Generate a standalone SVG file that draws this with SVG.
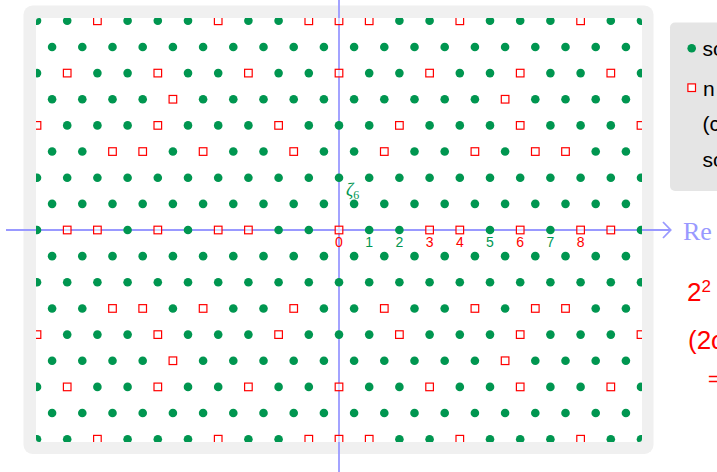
<svg xmlns="http://www.w3.org/2000/svg" xmlns:xlink="http://www.w3.org/1999/xlink" width="717" height="472" viewBox="0 0 717 472">
<style>
.g{fill:#009650}
.r{fill:#fff;fill-opacity:0.6;stroke:#ff0000;stroke-width:1.2}
.ax{stroke:#9999ff;stroke-width:1.8;fill:none}
.lab{font-family:"Liberation Sans",Arial,sans-serif;font-size:14px;text-anchor:middle}
.lg{font-family:"Liberation Sans",Arial,sans-serif;font-size:21px;fill:#000}
.rt{font-family:"Liberation Sans",Arial,sans-serif;fill:#ff0000}
</style>
<defs>
<circle id="d" class="g" r="4.3"/>
<rect id="s" class="r" x="-3.8" y="-3.8" width="7.6" height="7.6"/>
<clipPath id="clip"><rect x="36" y="18" width="606" height="424" rx="3"/></clipPath>
<g id="evenAll"><use href="#d" x="37"/><use href="#d" x="67.2"/><use href="#d" x="97.4"/><use href="#d" x="127.6"/><use href="#d" x="157.8"/><use href="#d" x="188"/><use href="#d" x="218.2"/><use href="#d" x="248.4"/><use href="#d" x="278.6"/><use href="#d" x="308.8"/><use href="#d" x="339"/><use href="#d" x="369.2"/><use href="#d" x="399.4"/><use href="#d" x="429.6"/><use href="#d" x="459.8"/><use href="#d" x="490"/><use href="#d" x="520.2"/><use href="#d" x="550.4"/><use href="#d" x="580.6"/><use href="#d" x="610.8"/><use href="#d" x="641"/></g>
<g id="oddAll"><use href="#d" x="52.1"/><use href="#d" x="82.3"/><use href="#d" x="112.5"/><use href="#d" x="142.7"/><use href="#d" x="172.9"/><use href="#d" x="203.1"/><use href="#d" x="233.3"/><use href="#d" x="263.5"/><use href="#d" x="293.7"/><use href="#d" x="323.9"/><use href="#d" x="354.1"/><use href="#d" x="384.3"/><use href="#d" x="414.5"/><use href="#d" x="444.7"/><use href="#d" x="474.9"/><use href="#d" x="505.1"/><use href="#d" x="535.3"/><use href="#d" x="565.5"/><use href="#d" x="595.7"/><use href="#d" x="625.9"/></g>
<g id="row8"><use href="#d" x="37"/><use href="#d" x="67.2"/><use href="#s" x="97.4"/><use href="#d" x="127.6"/><use href="#d" x="157.8"/><use href="#d" x="188"/><use href="#s" x="218.2"/><use href="#d" x="248.4"/><use href="#d" x="278.6"/><use href="#s" x="308.8"/><use href="#s" x="339"/><use href="#s" x="369.2"/><use href="#d" x="399.4"/><use href="#d" x="429.6"/><use href="#s" x="459.8"/><use href="#d" x="490"/><use href="#d" x="520.2"/><use href="#d" x="550.4"/><use href="#s" x="580.6"/><use href="#d" x="610.8"/><use href="#d" x="641"/></g>
<g id="row6"><use href="#d" x="37"/><use href="#s" x="67.2"/><use href="#d" x="97.4"/><use href="#d" x="127.6"/><use href="#s" x="157.8"/><use href="#d" x="188"/><use href="#d" x="218.2"/><use href="#s" x="248.4"/><use href="#d" x="278.6"/><use href="#d" x="308.8"/><use href="#s" x="339"/><use href="#d" x="369.2"/><use href="#d" x="399.4"/><use href="#s" x="429.6"/><use href="#d" x="459.8"/><use href="#d" x="490"/><use href="#s" x="520.2"/><use href="#d" x="550.4"/><use href="#d" x="580.6"/><use href="#s" x="610.8"/><use href="#d" x="641"/></g>
<g id="row5"><use href="#d" x="52.1"/><use href="#d" x="82.3"/><use href="#d" x="112.5"/><use href="#d" x="142.7"/><use href="#s" x="172.9"/><use href="#d" x="203.1"/><use href="#d" x="233.3"/><use href="#d" x="263.5"/><use href="#d" x="293.7"/><use href="#d" x="323.9"/><use href="#d" x="354.1"/><use href="#d" x="384.3"/><use href="#d" x="414.5"/><use href="#d" x="444.7"/><use href="#d" x="474.9"/><use href="#s" x="505.1"/><use href="#d" x="535.3"/><use href="#d" x="565.5"/><use href="#d" x="595.7"/><use href="#d" x="625.9"/></g>
<g id="row4"><use href="#s" x="37"/><use href="#d" x="67.2"/><use href="#d" x="97.4"/><use href="#d" x="127.6"/><use href="#s" x="157.8"/><use href="#d" x="188"/><use href="#d" x="218.2"/><use href="#d" x="248.4"/><use href="#s" x="278.6"/><use href="#d" x="308.8"/><use href="#d" x="339"/><use href="#d" x="369.2"/><use href="#s" x="399.4"/><use href="#d" x="429.6"/><use href="#d" x="459.8"/><use href="#d" x="490"/><use href="#s" x="520.2"/><use href="#d" x="550.4"/><use href="#d" x="580.6"/><use href="#d" x="610.8"/><use href="#s" x="641"/></g>
<g id="row3"><use href="#d" x="52.1"/><use href="#d" x="82.3"/><use href="#s" x="112.5"/><use href="#s" x="142.7"/><use href="#d" x="172.9"/><use href="#s" x="203.1"/><use href="#d" x="233.3"/><use href="#d" x="263.5"/><use href="#s" x="293.7"/><use href="#d" x="323.9"/><use href="#d" x="354.1"/><use href="#s" x="384.3"/><use href="#d" x="414.5"/><use href="#d" x="444.7"/><use href="#s" x="474.9"/><use href="#d" x="505.1"/><use href="#s" x="535.3"/><use href="#s" x="565.5"/><use href="#d" x="595.7"/><use href="#d" x="625.9"/></g>
<g id="row0"><use href="#d" x="37"/><use href="#s" x="67.2"/><use href="#s" x="97.4"/><use href="#d" x="127.6"/><use href="#s" x="157.8"/><use href="#d" x="188"/><use href="#s" x="218.2"/><use href="#s" x="248.4"/><use href="#d" x="278.6"/><use href="#d" x="308.8"/><use href="#s" x="339"/><use href="#d" x="369.2"/><use href="#d" x="399.4"/><use href="#s" x="429.6"/><use href="#s" x="459.8"/><use href="#d" x="490"/><use href="#s" x="520.2"/><use href="#d" x="550.4"/><use href="#s" x="580.6"/><use href="#s" x="610.8"/><use href="#d" x="641"/></g>
</defs>

<g id="frame">
<rect x="23.5" y="5.5" width="630" height="448.5" rx="9" fill="#f0f0f0"/>
<rect x="36" y="18" width="606" height="424" rx="3" fill="#fff"/>
</g>

<g id="legend">
<rect x="670" y="22.5" width="60" height="168.5" rx="5" fill="#e5e5e5"/>
<circle cx="691.7" cy="48.3" r="4.3" fill="#009650"/>
<text class="lg" x="702.5" y="55.5">so</text>
<rect x="687.9" y="83.9" width="7.6" height="7.6" fill="#fff" stroke="#ff0000" stroke-width="1.2"/>
<text class="lg" x="703" y="95.5">n</text>
<text class="lg" x="702.5" y="131">(c</text>
<text class="lg" x="702.5" y="166.5">so</text>
</g>

<g id="axes">
<line class="ax" x1="6" y1="230" x2="670" y2="230"/>
<polyline class="ax" points="663,222 670.7,230 663,238"/>
<line class="ax" x1="339" y1="0" x2="339" y2="472"/>
<text x="683" y="240" font-family="Liberation Serif,serif" font-size="26" fill="#9999ff">Re</text>
</g>

<g id="points" clip-path="url(#clip)">
<use href="#row8" y="20.8"/>
<use href="#oddAll" y="46.95"/>
<use href="#row6" y="73.1"/>
<use href="#row5" y="99.25"/>
<use href="#row4" y="125.4"/>
<use href="#row3" y="151.55"/>
<use href="#evenAll" y="177.7"/>
<use href="#oddAll" y="203.85"/>
<use href="#row0" y="230"/>
<use href="#oddAll" y="256.15"/>
<use href="#evenAll" y="282.3"/>
<use href="#row3" y="308.45"/>
<use href="#row4" y="334.6"/>
<use href="#row5" y="360.75"/>
<use href="#row6" y="386.9"/>
<use href="#oddAll" y="413.05"/>
<use href="#row8" y="439.2"/>
</g>

<g id="labels">
<text class="lab" x="339" y="247" fill="#ff0000">0</text>
<text class="lab" x="369.2" y="247" fill="#009650">1</text>
<text class="lab" x="399.4" y="247" fill="#009650">2</text>
<text class="lab" x="429.6" y="247" fill="#ff0000">3</text>
<text class="lab" x="459.8" y="247" fill="#ff0000">4</text>
<text class="lab" x="490" y="247" fill="#009650">5</text>
<text class="lab" x="520.2" y="247" fill="#ff0000">6</text>
<text class="lab" x="550.4" y="247" fill="#009650">7</text>
<text class="lab" x="580.6" y="247" fill="#ff0000">8</text>
<text x="346" y="196" font-family="Liberation Serif,serif" font-style="italic" font-size="18" fill="#009650">ζ<tspan font-style="normal" font-size="12" dy="3">6</tspan></text>
</g>

<g id="equations">
<text class="rt" x="687" y="301" font-size="26">2<tspan font-size="17" dy="-9">2</tspan></text>
<text class="rt" x="688" y="349" font-size="26">(2ω</text>
<text class="rt" x="708" y="386" font-size="20">=</text>
</g>
</svg>
